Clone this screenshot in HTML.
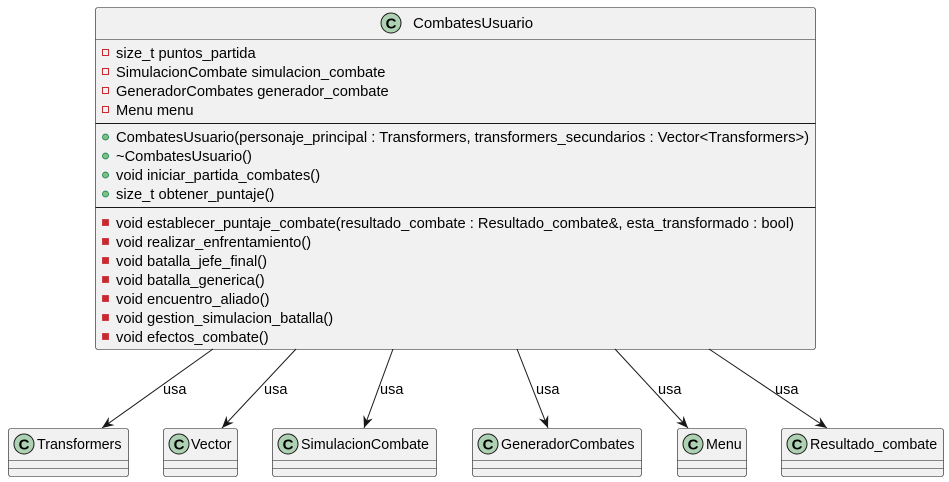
<!DOCTYPE html>
<html><head><meta charset="utf-8"><style>
html,body{margin:0;padding:0;background:#fff;}
svg{display:block;font-family:"Liberation Sans","DejaVu Sans",sans-serif;}
</style></head><body>
<svg width="949" height="482" viewBox="0 0 949 482" xmlns="http://www.w3.org/2000/svg">
<defs>
<g id="ci"><circle r="10" fill="#ADD1B2" stroke="#181818" stroke-width="1"/><text x="0" y="5.5" text-anchor="middle" font-size="15" font-weight="bold" fill="#000">C</text></g>
<marker id="ar" viewBox="0 0 12 10" refX="12" refY="5" markerWidth="12" markerHeight="10" markerUnits="userSpaceOnUse" orient="auto">
<path d="M0,0 L12,5 L0,10 L4,5 Z" fill="#181818"/>
</marker>
</defs>
<rect x="95.5" y="7.5" width="720" height="342" rx="2.5" fill="#F1F1F1" stroke="#181818" stroke-width="0.6"/>
<line x1="95.5" y1="39.5" x2="815.5" y2="39.5" stroke="#181818" stroke-width="0.6"/>
<line x1="95.5" y1="123.5" x2="815.5" y2="123.5" stroke="#181818" stroke-width="1"/>
<line x1="95.5" y1="207.5" x2="815.5" y2="207.5" stroke="#181818" stroke-width="1"/>
<use href="#ci" x="391" y="23"/>
<text x="413" y="28" font-size="15" fill="#000">CombatesUsuario</text>
<g font-size="14.7" fill="#000">
<g fill="none" stroke="#C82930" stroke-width="1">
<rect x="102.5" y="49.5" width="6" height="6"/><rect x="102.5" y="68.5" width="6" height="6"/><rect x="102.5" y="87.5" width="6" height="6"/><rect x="102.5" y="106.5" width="6" height="6"/>
</g>
<text x="116" y="58">size_t puntos_partida</text>
<text x="116" y="77">SimulacionCombate simulacion_combate</text>
<text x="116" y="96">GeneradorCombates generador_combate</text>
<text x="116" y="115">Menu menu</text>
<g fill="#84BE84" stroke="#038048" stroke-width="0.8">
<circle cx="105.5" cy="137" r="3"/><circle cx="105.5" cy="156" r="3"/><circle cx="105.5" cy="175" r="3"/><circle cx="105.5" cy="194" r="3"/>
</g>
<text x="116" y="142" textLength="693" lengthAdjust="spacingAndGlyphs">CombatesUsuario(personaje_principal : Transformers, transformers_secundarios : Vector&lt;Transformers&gt;)</text>
<text x="116" y="161">~CombatesUsuario()</text>
<text x="116" y="180">void iniciar_partida_combates()</text>
<text x="116" y="199">size_t obtener_puntaje()</text>
<g fill="#C82930" stroke="#C82930" stroke-width="0.8">
<rect x="102.5" y="219.5" width="6" height="6"/><rect x="102.5" y="238.5" width="6" height="6"/><rect x="102.5" y="257.5" width="6" height="6"/><rect x="102.5" y="276.5" width="6" height="6"/><rect x="102.5" y="295.5" width="6" height="6"/><rect x="102.5" y="314.5" width="6" height="6"/><rect x="102.5" y="333.5" width="6" height="6"/>
</g>
<text x="116" y="228" textLength="678" lengthAdjust="spacingAndGlyphs">void establecer_puntaje_combate(resultado_combate : Resultado_combate&amp;, esta_transformado : bool)</text>
<text x="116" y="247">void realizar_enfrentamiento()</text>
<text x="116" y="266">void batalla_jefe_final()</text>
<text x="116" y="285">void batalla_generica()</text>
<text x="116" y="304">void encuentro_aliado()</text>
<text x="116" y="323">void gestion_simulacion_batalla()</text>
<text x="116" y="342">void efectos_combate()</text>
</g>
<g stroke="#181818" stroke-width="1" fill="none" marker-end="url(#ar)">
<line x1="213" y1="349" x2="102" y2="428"/>
<line x1="296" y1="349" x2="222" y2="428"/>
<line x1="393" y1="349" x2="364" y2="428"/>
<line x1="517" y1="349" x2="548" y2="428"/>
<line x1="615" y1="349" x2="688" y2="428"/>
<line x1="709" y1="349" x2="827" y2="428"/>
</g>
<g font-size="14.5" fill="#000">
<text x="163" y="394">usa</text>
<text x="264" y="394">usa</text>
<text x="380" y="394">usa</text>
<text x="536" y="394">usa</text>
<text x="658" y="394">usa</text>
<text x="775" y="394">usa</text>
</g>
<g fill="#F1F1F1" stroke="#181818" stroke-width="0.6">
<rect x="8.5" y="428.5" width="120" height="48" rx="2.5"/>
<rect x="163.5" y="428.5" width="74" height="48" rx="2.5"/>
<rect x="272.5" y="428.5" width="164" height="48" rx="2.5"/>
<rect x="472.5" y="428.5" width="169" height="48" rx="2.5"/>
<rect x="677.5" y="428.5" width="69" height="48" rx="2.5"/>
<rect x="781.5" y="428.5" width="162" height="48" rx="2.5"/>
<path d="M8.5 460.5H128.5M8.5 468.5H128.5M163.5 460.5H237.5M163.5 468.5H237.5M272.5 460.5H436.5M272.5 468.5H436.5M472.5 460.5H641.5M472.5 468.5H641.5M677.5 460.5H746.5M677.5 468.5H746.5M781.5 460.5H943.5M781.5 468.5H943.5"/>
</g>
<use href="#ci" x="24" y="444"/><use href="#ci" x="179" y="444"/><use href="#ci" x="288" y="444"/><use href="#ci" x="488" y="444"/><use href="#ci" x="693" y="444"/><use href="#ci" x="797" y="444"/>
<g font-size="14.3" fill="#000">
<text x="37" y="449">Transformers</text>
<text x="191" y="449">Vector</text>
<text x="301" y="449">SimulacionCombate</text>
<text x="501" y="449">GeneradorCombates</text>
<text x="706" y="449">Menu</text>
<text x="810" y="449">Resultado_combate</text>
</g>
</svg>
</body></html>
